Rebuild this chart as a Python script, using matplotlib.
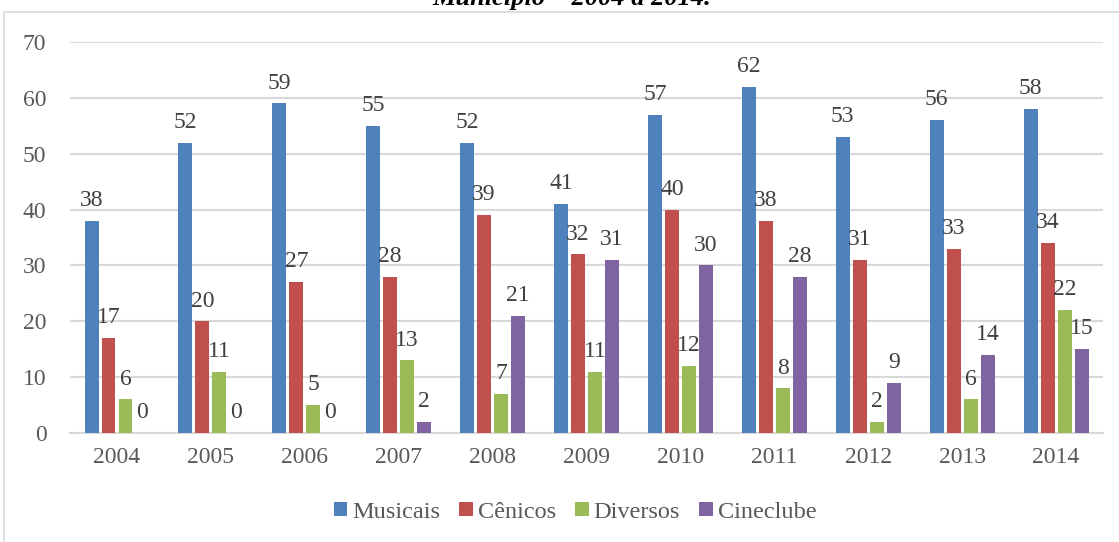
import matplotlib.pyplot as plt
import numpy as np
from matplotlib.patches import Rectangle

plt.rcParams['font.family'] = ['Liberation Serif', 'DejaVu Serif']

anos = ['2004', '2005', '2006', '2007', '2008', '2009', '2010', '2011', '2012', '2013', '2014']
musicais = [38, 52, 59, 55, 52, 41, 57, 62, 53, 56, 58]
cenicos = [17, 20, 27, 28, 39, 32, 40, 38, 31, 33, 34]
diversos = [6, 11, 5, 13, 7, 11, 12, 8, 2, 6, 22]
cineclube = [0, 0, 0, 2, 21, 31, 30, 28, 9, 14, 15]

series = [('Musicais', musicais, '#4F81BD'),
          ('Cênicos', cenicos, '#C0504D'),
          ('Diversos', diversos, '#9BBB59'),
          ('Cineclube', cineclube, '#8064A2')]

txt = '#404040'

fig = plt.figure(figsize=(11.19, 5.42), dpi=100)
ax = fig.add_axes([0.0626, 0.2011, 0.9231, 0.7214])

# moldura do grafico (cortada na imagem original)
fig.patches.append(Rectangle((4 / 1119, -0.1), 1.2, 1 - 12 / 542 + 0.1,
                             transform=fig.transFigure, fill=False,
                             edgecolor='#d9d9d9', linewidth=1.2))

# titulo cortado no topo, como no original
fig.text(0.511, 1 - 5 / 542, 'Município – 2004 a 2014.', ha='center', va='baseline',
         fontsize=19, fontweight='bold', fontstyle='italic', color='black')

x = np.arange(len(anos))
step = 0.181
w = 0.149
for i, (nome, vals, cor) in enumerate(series):
    pos = x + (i - 1.5) * step
    ax.bar(pos, vals, w, color=cor, label=nome, zorder=3)
    for xi, v in zip(pos, vals):
        ax.annotate(str(v), (xi, v), xytext=(0, 7), textcoords='offset points',
                    ha='center', va='bottom', fontsize=17, color=txt, zorder=4)

ax.set_xlim(-0.5, len(anos) - 0.5)
ax.set_ylim(0, 70)
ax.set_yticks(range(0, 71, 10))
ax.set_xticks(x)
ax.set_xticklabels(anos)
ax.yaxis.grid(True, color='#d9d9d9', linewidth=1.5, zorder=0)
ax.set_axisbelow(True)
for s in ['top', 'right', 'left']:
    ax.spines[s].set_visible(False)
ax.spines['bottom'].set_color('#d9d9d9')
ax.spines['bottom'].set_linewidth(1.5)
ax.tick_params(axis='both', length=0, labelsize=17, labelcolor='#595959')
ax.tick_params(axis='y', pad=17)
ax.tick_params(axis='x', pad=10)

ax.legend(loc='center', bbox_to_anchor=(575 / 1119, 1 - 512 / 542),
          bbox_transform=fig.transFigure, ncol=4, frameon=False, fontsize=17.5,
          handlelength=0.55, handleheight=0.55, handletextpad=0.2, columnspacing=0.8,
          labelcolor='#595959')

fig.savefig('out.png', dpi=100)
